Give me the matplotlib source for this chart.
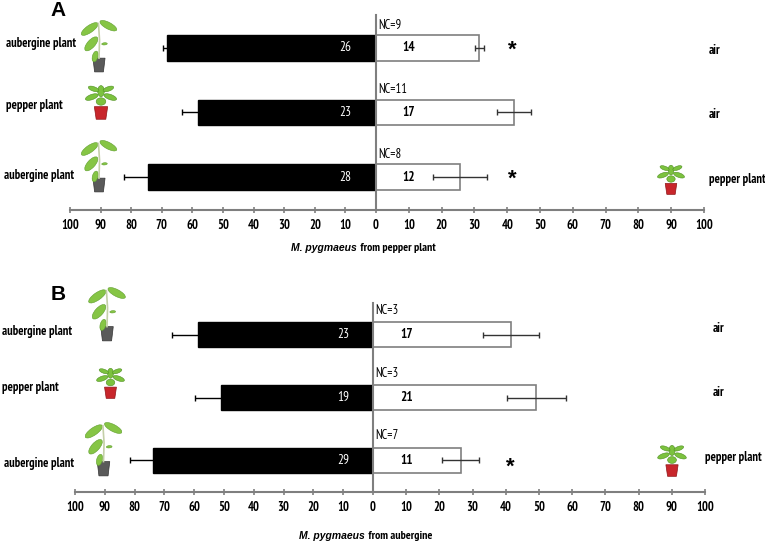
import numpy as np
import matplotlib
matplotlib.use('Agg')
import matplotlib.pyplot as plt
from matplotlib.patches import Ellipse, Polygon

W, H = 765, 544
matplotlib.rcParams['font.family'] = 'sans-serif'
matplotlib.rcParams['font.sans-serif'] = ['PT Sans Narrow', 'Liberation Sans', 'DejaVu Sans']

# panel A: M. pygmaeus from pepper plant
a_left = [68.4, 58.2, 74.5]
a_left_err = [1.3, 5.3, 7.9]
a_right = [31.5, 42.1, 25.6]
a_right_err = [1.35, 5.3, 8.1]
a_n_left = [26, 23, 28]
a_n_right = [14, 17, 12]
a_nc = [9, 11, 8]
a_star = [True, False, True]
a_odour_left = ['aubergine plant', 'pepper plant', 'aubergine plant']
a_odour_right = ['air', 'air', 'pepper plant']
a_xlabel = ('M. pygmaeus', ' from pepper plant')

# panel B: M. pygmaeus from aubergine
b_left = [58.7, 51.0, 73.7]
b_left_err = [8.6, 8.7, 7.8]
b_right = [41.5, 49.2, 26.4]
b_right_err = [8.4, 8.8, 5.55]
b_n_left = [23, 19, 29]
b_n_right = [17, 21, 11]
b_nc = [3, 3, 7]
b_star = [False, False, True]
b_odour_left = ['aubergine plant', 'pepper plant', 'aubergine plant']
b_odour_right = ['air', 'air', 'pepper plant']
b_xlabel = ('M. pygmaeus', ' from aubergine')

GRAY = '#7f7f7f'

def fx(x):
	return x / W
def fy(y):
	return 1 - y / H
def rect(x0, y0, x1, y1):
	return [x0 / W, 1 - y1 / H, (x1 - x0) / W, (y1 - y0) / H]

def drawPlant(fig, box, kind):
	x0, y0, x1, y1 = box
	ax = fig.add_axes(rect(*box))
	r = (x1 - x0) / (y1 - y0)
	ax.set_xlim(0, r)
	ax.set_ylim(0, 1)
	ax.axis('off')
	c = r / 2
	if kind == 'aubergine':
		ax.add_patch(Polygon([[c - 0.08, 0.02], [c + 0.08, 0.02], [c + 0.11, 0.27], [c - 0.11, 0.27]], closed=True, fc='#5a5a5a', ec='#333333', lw=0.5))
		ax.plot([c, c + 0.01, c - 0.01], [0.27, 0.6, 0.9], color='#c4cfa8', lw=1.2)
		leaves = [(c - 0.17, 0.80, 0.36, 0.13, 35), (c + 0.17, 0.86, 0.34, 0.12, -28),
				  (c - 0.14, 0.53, 0.32, 0.14, 48), (c - 0.07, 0.30, 0.20, 0.10, 75), (c + 0.10, 0.53, 0.10, 0.04, 5)]
		for (x, y, w, h, a) in leaves:
			ax.add_patch(Ellipse((x, y), w, h, angle=a, fc='#86c545', ec='#5f9e2e', lw=0.4))
	else:
		ax.add_patch(Polygon([[c - 0.13, 0.02], [c + 0.13, 0.02], [c + 0.18, 0.36], [c - 0.18, 0.36]], closed=True, fc='#c8262b', ec='#8e1518', lw=0.5))
		leaves = [(c - 0.25, 0.62, 0.36, 0.14, 20), (c + 0.25, 0.62, 0.36, 0.14, -20), (c, 0.78, 0.18, 0.30, 0),
				  (c - 0.20, 0.84, 0.30, 0.12, -20), (c + 0.20, 0.84, 0.30, 0.12, 20), (c, 0.50, 0.26, 0.20, 0)]
		for (x, y, w, h, a) in leaves:
			ax.add_patch(Ellipse((x, y), w, h, angle=a, fc='#7cc23e', ec='#4f8f22', lw=0.4))

def drawPanel(fig, L, left, left_err, right, right_err, n_left, n_right, nc, star, odour_left, odour_right, xlabel):
	x0, xm, x1, ytop, ybot = L['axes']
	y = np.arange(3)
	ylim = (2.51, -0.51)
	axl = fig.add_axes(rect(x0, ytop, xm, ybot))
	axr = fig.add_axes(rect(xm, ytop, x1, ybot))
	for ax in (axl, axr):
		ax.set_ylim(*ylim)
		ax.set_yticks([])
		for s in ['top', 'right', 'left']:
			ax.spines[s].set_visible(False)
		ax.spines['bottom'].set_color(GRAY)
		ax.spines['bottom'].set_linewidth(1.5)
		ax.tick_params(axis='x', direction='inout', length=5, width=1.2, color=GRAY, pad=4, labelsize=9)
		ax.patch.set_alpha(0)
	axr.spines['left'].set_visible(True)
	axr.spines['left'].set_color(GRAY)
	axr.spines['left'].set_linewidth(1.5)
	axr.set_zorder(3)

	axl.set_xlim(100, 0)
	axl.set_xticks(np.arange(100, 5, -10))
	axr.set_xlim(0, 100)
	axr.set_xticks(np.arange(0, 101, 10))
	for ax in (axl, axr):
		for t in ax.get_xticklabels():
			t.set_fontweight('bold')

	hgt = 0.40
	axl.barh(y, left, height=hgt, color='black', edgecolor='black', zorder=2)
	axl.errorbar(left, y, xerr=left_err, fmt='none', ecolor='black', elinewidth=1, capsize=2, capthick=1, zorder=1)
	axr.barh(y, right, height=hgt, color='white', edgecolor=GRAY, linewidth=1.2, zorder=2)
	axr.errorbar(right, y, xerr=right_err, fmt='none', ecolor='#333333', elinewidth=1, capsize=2, capthick=1, zorder=3)

	for i in range(3):
		axl.text(10, y[i], str(n_left[i]), color='white', ha='center', va='center', fontsize=9.5, zorder=4)
		axr.text(10, y[i], str(n_right[i]), color='black', ha='center', va='center', fontsize=9.5, fontweight='bold', zorder=4)
		axr.text(0.6, y[i] + L['nc_dy'], 'NC={:d}'.format(nc[i]), ha='left', va='center', fontsize=9, clip_on=False)
		if star[i]:
			axr.text(41.5, y[i] + L['star_dy'], '*', ha='center', va='center', fontsize=16, fontweight='bold', family='Liberation Sans', clip_on=False)

	for (px, py), s in zip(L['lab_left'], odour_left):
		fig.text(fx(px), fy(py), s, ha='left', va='center', fontsize=9, fontweight='bold')
	for (px, py), s in zip(L['lab_right'], odour_right):
		fig.text(fx(px), fy(py), s, ha='left', va='center', fontsize=9, fontweight='bold')

	xs, ys = L['xlabel']
	fig.text(fx(xs - 1), fy(ys), xlabel[0], ha='right', va='center', fontsize=7.5, style='italic', fontweight='bold', family='Liberation Sans')
	fig.text(fx(xs), fy(ys), xlabel[1], ha='left', va='center', fontsize=8.5, fontweight='bold')
	fig.text(fx(L['tag'][0]), fy(L['tag'][1]), L['tag'][2], ha='center', va='center', fontsize=15, fontweight='bold', family='Liberation Sans')

	for box, kind in L['plants']:
		drawPlant(fig, box, kind)

layoutA = {
	'axes': (70, 376, 704, 15, 210),
	'nc_dy': -0.35,
	'star_dy': 0.04,
	'lab_left': [(6, 43), (6, 106), (4, 175)],
	'lab_right': [(709, 50), (709, 115), (709, 180)],
	'xlabel': (358, 248),
	'tag': (58, 10, 'A'),
	'plants': [((80, 18, 118, 73), 'aubergine'), ((84, 83, 118, 120), 'pepper'),
			   ((80, 138, 118, 193), 'aubergine'), ((655, 163, 687, 195), 'pepper')],
}
layoutB = {
	'axes': (75, 373, 705, 303, 492),
	'nc_dy': -0.39,
	'star_dy': 0.11,
	'lab_left': [(2, 332), (2, 387), (4, 463)],
	'lab_right': [(713, 329), (713, 393), (705, 458)],
	'xlabel': (366, 536),
	'tag': (58, 295, 'B'),
	'plants': [((88, 285, 126, 342), 'aubergine'), ((93, 366, 128, 399), 'pepper'),
			   ((85, 420, 122, 477), 'aubergine'), ((657, 443, 687, 477), 'pepper')],
}

if __name__ == '__main__':
	fig = plt.figure(figsize=(W / 100, H / 100), dpi=100)
	drawPanel(fig, layoutA, a_left, a_left_err, a_right, a_right_err, a_n_left, a_n_right, a_nc, a_star, a_odour_left, a_odour_right, a_xlabel)
	drawPanel(fig, layoutB, b_left, b_left_err, b_right, b_right_err, b_n_left, b_n_right, b_nc, b_star, b_odour_left, b_odour_right, b_xlabel)
	fig.savefig('out.png', dpi=100)
	plt.close(fig)
